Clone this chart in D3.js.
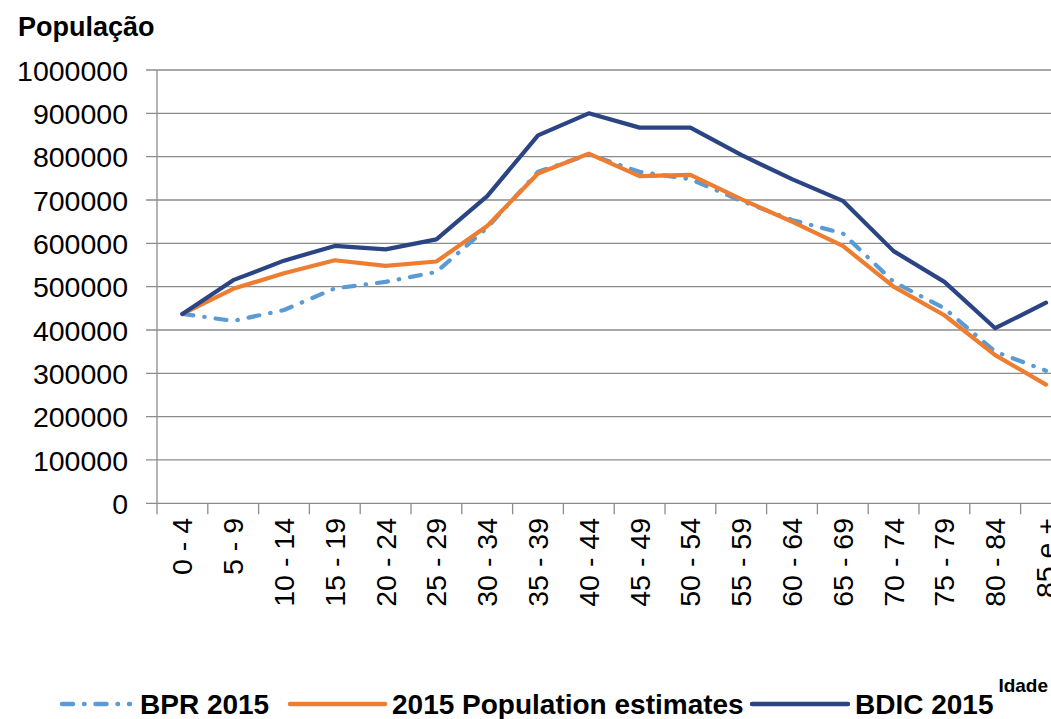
<!DOCTYPE html>
<html>
<head>
<meta charset="utf-8">
<script src="https://cdn.jsdelivr.net/npm/d3@7"></script>
<style>
  html, body { margin: 0; padding: 0; background: #fff; }
  svg { display: block; }
</style>
</head>
<body>
<svg id="chart" width="1051" height="719"></svg>
<script>
const categories = ["0 - 4","5 - 9","10 - 14","15 - 19","20 - 24","25 - 29","30 - 34","35 - 39","40 - 44","45 - 49","50 - 54","55 - 59","60 - 64","65 - 69","70 - 74","75 - 79","80 - 84","85 e +"];
const bpr2015 = [437000,421000,446000,496000,511000,534000,636000,765000,805000,765000,748000,698000,654000,623000,511000,450000,350000,306000];
const popEstimates2015 = [437000,495000,531000,561000,548000,558000,640000,761000,807000,755000,758000,702000,650000,594000,500000,434000,342000,274000];
const bdic2015 = [437000,515000,560000,594000,586000,609000,709000,849000,900000,867000,867000,804000,748000,698000,582000,511000,404000,463000];
const yTicks = [0,100000,200000,300000,400000,500000,600000,700000,800000,900000,1000000];
const seriesNames = ["BPR 2015","2015 Population estimates","BDIC 2015"];

(function () {
const svg = d3.select("#chart");
const W = 1051;
const plotLeft = 157, plotTop = 70, plotBottom = 503.3;
const step = 50.8;

const x = d3.scaleBand().domain(categories).range([plotLeft, plotLeft + step * categories.length]).padding(0);
const y = d3.scaleLinear().domain([0, 1000000]).range([plotBottom, plotTop]);

const gridColor = "#8c8c8c";
const font = "Liberation Sans, Arial, sans-serif";

// gridlines
svg.append("g").selectAll("line").data(yTicks.filter(d => d > 0)).join("line")
  .attr("x1", 146).attr("x2", W)
  .attr("y1", d => y(d)).attr("y2", d => y(d))
  .attr("stroke", gridColor).attr("stroke-width", 1.3);

// y axis labels
const yAxis = d3.axisLeft(y).tickValues(yTicks).tickSize(0).tickPadding(29).tickFormat(d3.format("d"));
const gy = svg.append("g").attr("transform", `translate(${plotLeft},0)`).call(yAxis);
gy.select(".domain").remove();
gy.selectAll("text").attr("font-family", font).attr("font-size", 28.5).attr("fill", "#000").attr("dy", "0.36em");

// y axis line
svg.append("line").attr("x1", plotLeft).attr("x2", plotLeft).attr("y1", plotTop).attr("y2", plotBottom)
  .attr("stroke", gridColor).attr("stroke-width", 1.3);
// x axis line
svg.append("line").attr("x1", 146).attr("x2", W).attr("y1", plotBottom).attr("y2", plotBottom)
  .attr("stroke", gridColor).attr("stroke-width", 1.3);

// x ticks at category boundaries
const bounds = categories.map(c => x(c)).concat([x(categories[categories.length-1]) + x.bandwidth()]);
svg.append("g").selectAll("line").data(bounds).join("line")
  .attr("x1", d => d).attr("x2", d => d)
  .attr("y1", plotBottom).attr("y2", plotBottom + 11)
  .attr("stroke", gridColor).attr("stroke-width", 1.3);

// x labels rotated
svg.append("g").selectAll("text").data(categories).join("text")
  .attr("transform", d => `translate(${x(d) + x.bandwidth()/2 + 10},518) rotate(-90)`)
  .attr("text-anchor", "end")
  .attr("font-family", font)
  .attr("font-size", 28.5)
  .attr("fill", "#000")
  .text(d => d);

// lines
const line = d3.line().x((d, i) => x(categories[i]) + x.bandwidth()/2).y(d => y(d));
const styles = [
  { data: bpr2015, color: "#5b9bd5", dash: "11,11,0.5,11", cap: "round" },
  { data: popEstimates2015, color: "#ed7d31", dash: null, cap: "round" },
  { data: bdic2015, color: "#2b4483", dash: null, cap: "round" }
];
styles.forEach(s => {
  svg.append("path").datum(s.data)
    .attr("d", line)
    .attr("fill", "none")
    .attr("stroke", s.color)
    .attr("stroke-width", 4.2)
    .attr("stroke-linejoin", "round")
    .attr("stroke-linecap", s.cap)
    .attr("stroke-dasharray", s.dash);
});

// title
svg.append("text").attr("x", 18).attr("y", 36)
  .attr("font-family", font).attr("font-weight", "bold")
  .attr("font-size", 27).attr("fill", "#000").text("População");

// x axis title
svg.append("text").attr("x", 1048).attr("y", 692).attr("text-anchor", "end")
  .attr("font-family", font).attr("font-weight", "bold")
  .attr("font-size", 19).attr("fill", "#000").text("Idade");

// legend
const legendItems = [
  { name: seriesNames[0], x1: 62, x2: 130, tx: 140, s: styles[0] },
  { name: seriesNames[1], x1: 290, x2: 385, tx: 392, s: styles[1] },
  { name: seriesNames[2], x1: 752, x2: 848, tx: 855, s: styles[2] }
];
legendItems.forEach(it => {
  svg.append("line").attr("x1", it.x1).attr("x2", it.x2).attr("y1", 704).attr("y2", 704)
    .attr("stroke", it.s.color).attr("stroke-width", 4.5)
    .attr("stroke-linecap", "round")
    .attr("stroke-dasharray", it.s.dash);
  svg.append("text").attr("x", it.tx).attr("y", 714)
    .attr("font-family", font).attr("font-weight", "bold")
    .attr("font-size", 28).attr("fill", "#000").text(it.name);
});
})();
</script>
</body>
</html>
